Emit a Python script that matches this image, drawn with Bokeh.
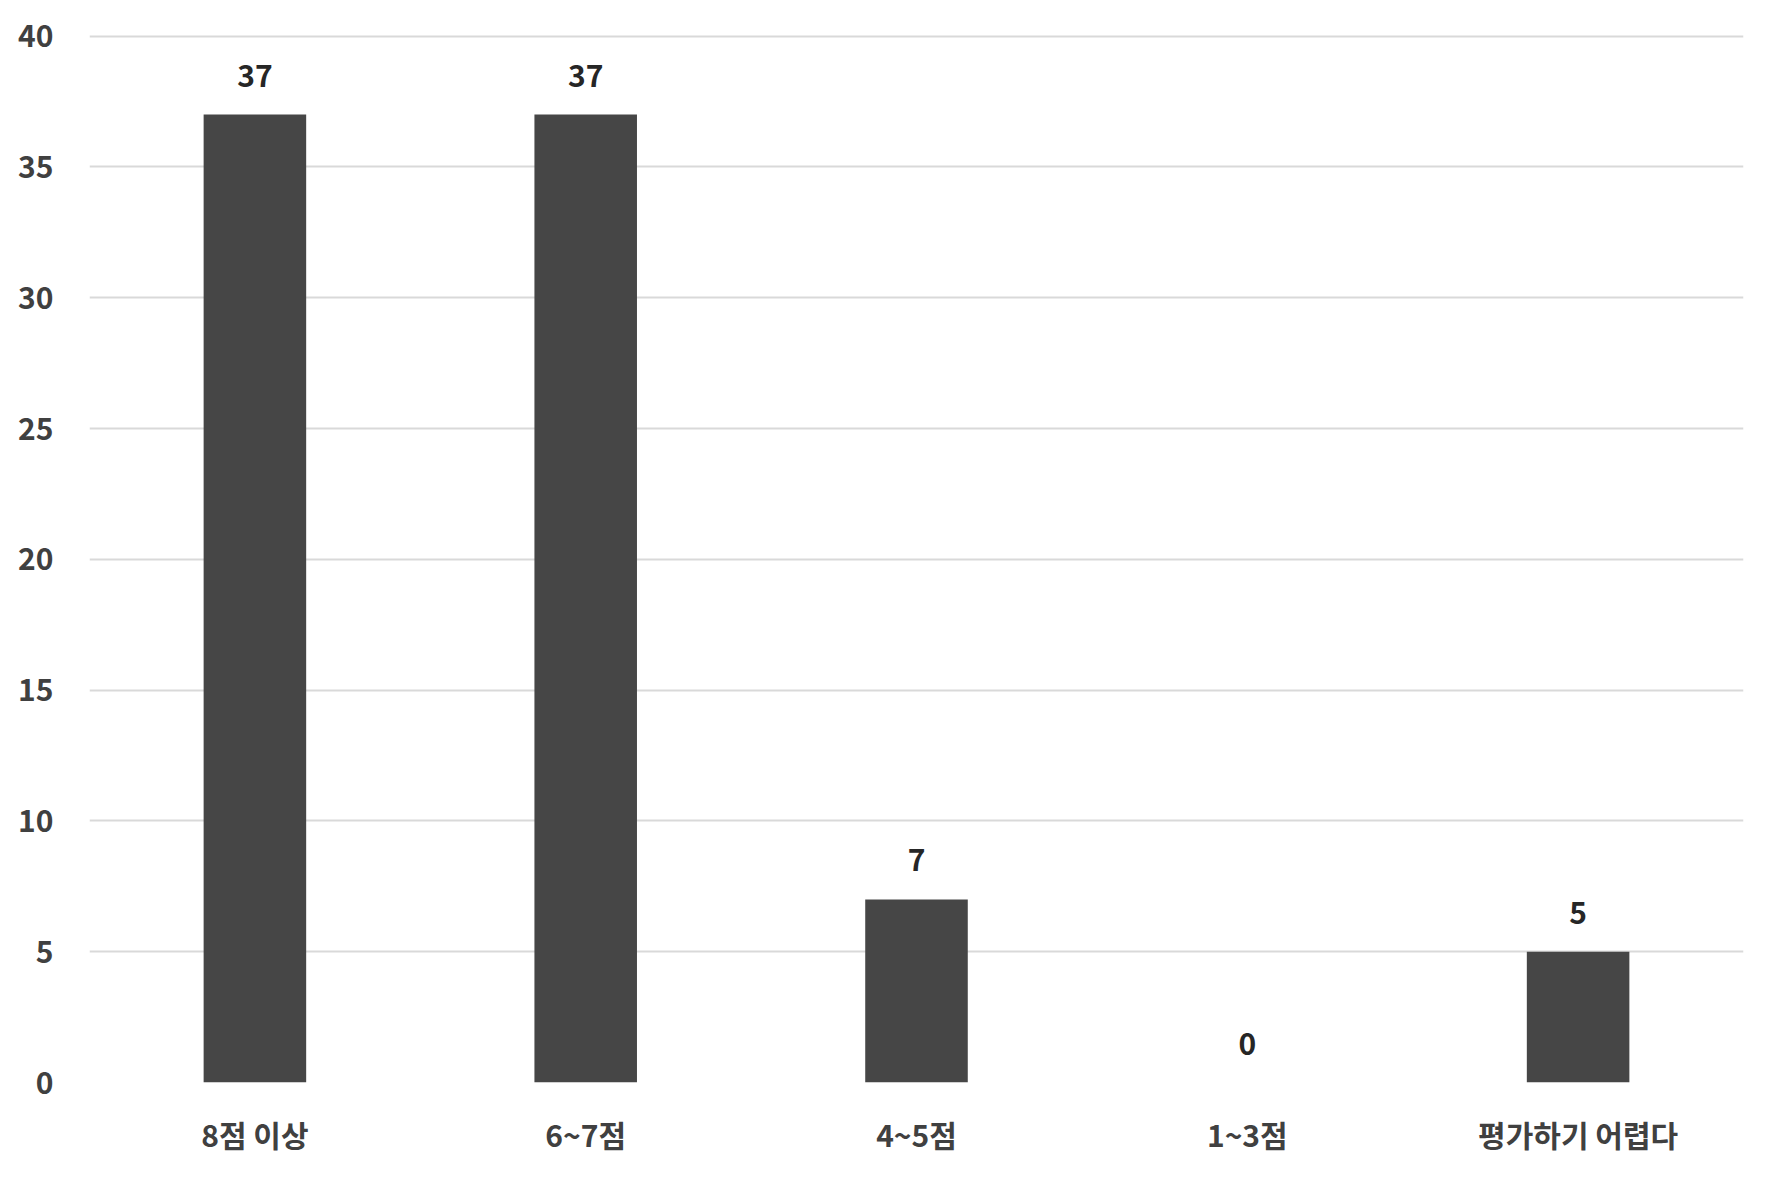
from bokeh.plotting import figure
from bokeh.models import ColumnDataSource, LabelSet, FixedTicker, Range1d
from bokeh.core.properties import value
from bokeh.embed import file_html
from bokeh.resources import INLINE

categories = ["8점 이상", "6~7점", "4~5점", "1~3점", "평가하기 어렵다"]
values = [37, 37, 7, 0, 5]
y_ticks = [0, 5, 10, 15, 20, 25, 30, 35, 40]

FONT = "Noto Sans CJK KR"
src = ColumnDataSource(dict(cat=categories, val=values, lab=[str(v) for v in values]))

p = figure(x_range=categories, y_range=Range1d(0, 40.1), width=1756, height=1165,
           output_backend="svg", toolbar_location=None,
           min_border_left=89, min_border_right=13, min_border_top=33, min_border_bottom=83)
p.outline_line_color = None
p.background_fill_color = "white"
p.border_fill_color = "white"

p.vbar(x="cat", top="val", width=0.31, source=src, fill_color="#464646", line_color=None)

labels = LabelSet(x="cat", y="val", text="lab", source=src, text_align="center",
                  text_baseline="bottom", y_offset=28, text_font=value(FONT),
                  text_font_size="30px", text_font_style="bold", text_color="#262626")
p.add_layout(labels)

p.yaxis.ticker = FixedTicker(ticks=y_ticks)
p.yaxis.axis_line_color = None
p.yaxis.major_tick_line_color = None
p.yaxis.minor_tick_line_color = None
p.yaxis.major_label_standoff = 30
p.yaxis.major_label_text_font = FONT
p.yaxis.major_label_text_font_size = "30px"
p.yaxis.major_label_text_font_style = "bold"
p.yaxis.major_label_text_color = "#404040"

p.xaxis.axis_line_color = None
p.xaxis.major_tick_line_color = None
p.xaxis.minor_tick_line_color = None
p.xaxis.major_label_standoff = 23
p.xaxis.major_label_text_font = FONT
p.xaxis.major_label_text_font_size = "30px"
p.xaxis.major_label_text_font_style = "bold"
p.xaxis.major_label_text_color = "#404040"

p.xgrid.grid_line_color = None
p.ygrid.grid_line_color = "#d9d9d9"
p.ygrid.grid_line_width = 2
p.ygrid.level = "underlay"

open("out.html", "w").write(file_html(p, INLINE))
